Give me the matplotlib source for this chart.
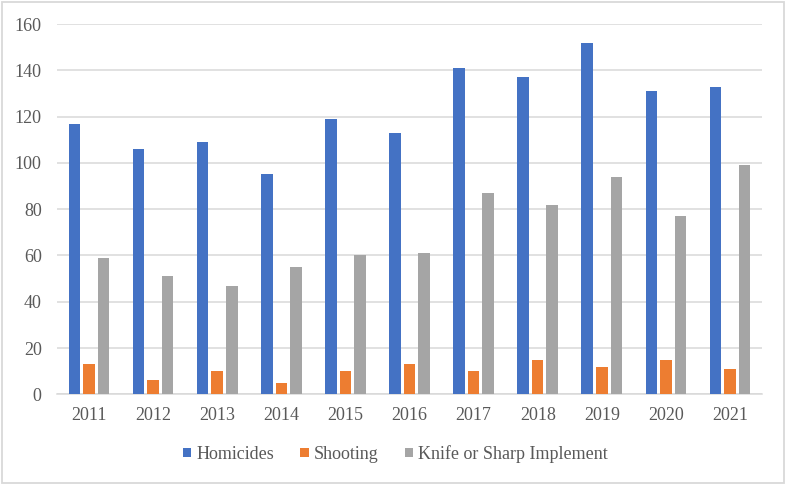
import matplotlib
matplotlib.use("Agg")
import matplotlib.pyplot as plt
import numpy as np
from matplotlib.patches import Rectangle, Patch

years = ["2011", "2012", "2013", "2014", "2015", "2016", "2017", "2018", "2019", "2020", "2021"]
homicides = [117, 106, 109, 95, 119, 113, 141, 137, 152, 131, 133]
shooting = [13, 6, 10, 5, 10, 13, 10, 15, 12, 15, 11]
knife = [59, 51, 47, 55, 60, 61, 87, 82, 94, 77, 99]
series_names = ["Homicides", "Shooting", "Knife or Sharp Implement"]
colors = ["#4472C4", "#ED7D31", "#A5A5A5"]

plt.rcParams['font.family'] = ['Liberation Serif', 'DejaVu Serif']

fig = plt.figure(figsize=(7.86, 4.84), dpi=100)
ax = fig.add_axes([0.0725, 0.1853, 0.897, 0.765])

x = np.arange(len(years))
w = 0.18
step = 0.227
for i, (vals, c) in enumerate(zip([homicides, shooting, knife], colors)):
    ax.bar(x + (i - 1) * step, vals, width=w, color=c, zorder=3)

ax.set_xlim(-0.5, len(years) - 0.5)
ax.set_ylim(0, 160)
ax.set_yticks(range(0, 161, 20))
ax.set_xticks(x)
ax.set_xticklabels(years)
ax.yaxis.grid(True, color="#D9D9D9", linewidth=1.1, zorder=0)
ax.set_axisbelow(True)
for s in ["top", "right", "left"]:
    ax.spines[s].set_visible(False)
ax.spines["bottom"].set_color("#D9D9D9")
ax.spines["bottom"].set_linewidth(1.1)
ax.tick_params(axis="both", length=0, labelsize=13, labelcolor="#595959")
ax.tick_params(axis="y", pad=11)
ax.tick_params(axis="x", pad=9)

handles = [Patch(facecolor=c, edgecolor="none") for c in colors]
leg = fig.legend(handles, series_names, loc="center", bbox_to_anchor=(0.503, 0.062),
                 ncol=3, frameon=False, fontsize=13, handlelength=0.45, handleheight=0.45,
                 handletextpad=0.28, columnspacing=1.45)
for t in leg.get_texts():
    t.set_color("#595959")

fig.patches.append(Rectangle((0.002, 0.002), 0.995, 0.994, transform=fig.transFigure,
                             fill=False, edgecolor="#D9D9D9", linewidth=1.3))

fig.savefig("out.png", dpi=100)
